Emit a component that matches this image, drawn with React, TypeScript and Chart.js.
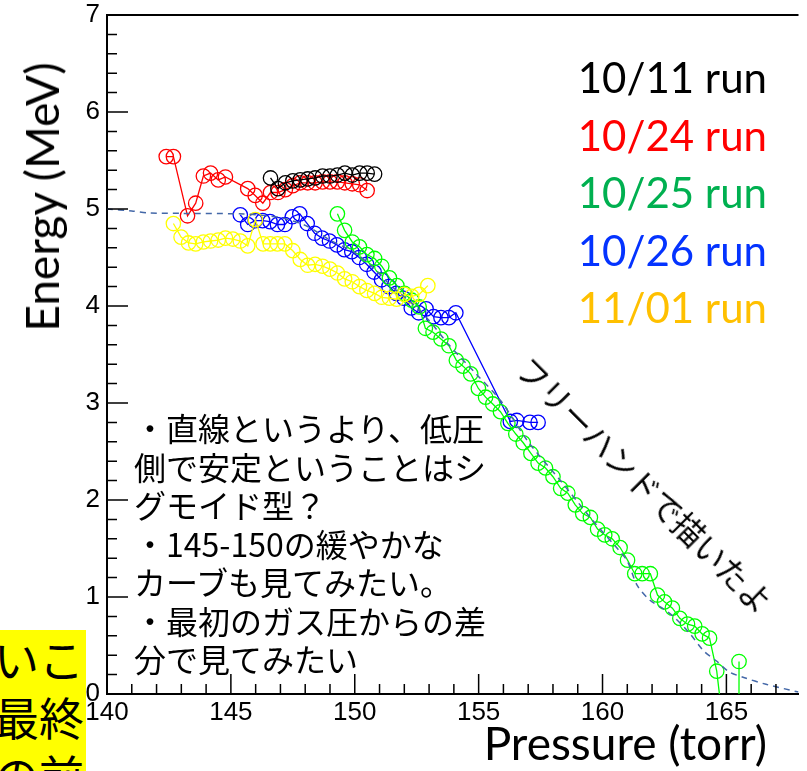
import React, { useEffect, useRef } from "react";
import { Chart, registerables } from "chart.js";

Chart.register(...registerables);

// ---- axis ranges & tick labels ----
const X_MIN = 140;
const X_MAX = 167.91;
const Y_MIN = 0;
const Y_MAX = 7;
const xMajorStep = 5;
const yMajorStep = 1;
const xMinorStep = 1;
const yMinorStep = 0.2;

// ---- series: pressure (torr) / energy (MeV) ----
const p1011 = [146.6, 146.9, 147.2, 147.5, 147.8, 148.1, 148.4, 148.7, 149.0, 149.3, 149.6, 149.9, 150.2, 150.5, 150.8];
const e1011 = [5.32, 5.21, 5.27, 5.29, 5.30, 5.31, 5.32, 5.34, 5.34, 5.35, 5.37, 5.35, 5.37, 5.37, 5.36];

const p1024 = [142.39, 142.68, 143.25, 143.58, 143.89, 144.18, 144.49, 144.78, 145.68, 145.98, 146.29, 146.6, 146.9, 147.2, 147.5, 147.8, 148.1, 148.4, 148.7, 149.0, 149.3, 149.6, 149.9, 150.2, 150.5];
const e1024 = [5.54, 5.54, 4.93, 5.06, 5.34, 5.37, 5.30, 5.33, 5.21, 5.14, 5.06, 5.17, 5.17, 5.20, 5.24, 5.27, 5.27, 5.27, 5.28, 5.28, 5.28, 5.27, 5.26, 5.25, 5.19];

const p1025 = [149.3, 149.59, 149.9, 150.19, 150.49, 150.8, 151.09, 151.4, 151.7, 152.0, 152.3, 152.6, 152.85, 153.16, 153.48, 153.8, 154.1, 154.37, 154.68, 154.99, 155.28, 155.57, 155.88, 156.18, 156.5, 156.8, 157.11, 157.4, 157.7, 158.0, 158.31, 158.6, 158.9, 159.2, 159.51, 159.8, 160.09, 160.39, 160.71, 161.01, 161.3, 161.6, 161.93, 162.22, 162.5, 162.82, 163.12, 163.43, 163.72, 164.02, 164.32, 164.61, 165.5, 165.51];
const e1025 = [4.95, 4.78, 4.66, 4.61, 4.53, 4.49, 4.41, 4.29, 4.21, 4.13, 4.06, 3.99, 3.77, 3.73, 3.66, 3.59, 3.44, 3.38, 3.30, 3.15, 3.06, 2.99, 2.91, 2.79, 2.68, 2.59, 2.48, 2.38, 2.33, 2.24, 2.12, 2.07, 1.95, 1.86, 1.82, 1.70, 1.64, 1.60, 1.51, 1.38, 1.24, 1.24, 1.24, 1.02, 0.95, 0.885, 0.78, 0.72, 0.70, 0.62, 0.576, 0.235, -1.7, 0.335];

const p1026 = [145.38, 145.68, 145.98, 146.28, 146.58, 146.88, 147.18, 147.48, 147.78, 148.08, 148.38, 148.68, 148.98, 149.28, 149.58, 149.88, 150.18, 150.48, 150.78, 151.08, 151.38, 151.68, 151.98, 152.28, 152.58, 152.88, 153.18, 153.48, 153.8, 154.08, 156.28, 156.54, 157.07, 157.4];
const e1026 = [4.94, 4.84, 4.88, 4.88, 4.87, 4.84, 4.84, 4.92, 4.95, 4.85, 4.75, 4.70, 4.67, 4.63, 4.58, 4.56, 4.50, 4.43, 4.35, 4.27, 4.20, 4.13, 4.08, 3.98, 3.93, 3.97, 3.89, 3.88, 3.88, 3.93, 2.81, 2.82, 2.80, 2.80];

const p1101 = [142.68, 142.99, 143.29, 143.58, 143.89, 144.18, 144.49, 144.78, 145.08, 145.38, 145.68, 145.99, 146.3, 146.59, 146.88, 147.18, 147.5, 147.8, 148.1, 148.4, 148.7, 149.0, 149.3, 149.59, 149.9, 150.19, 150.49, 150.8, 151.09, 151.4, 151.69, 152.0, 152.3, 152.6, 152.95];
const e1101 = [4.85, 4.71, 4.65, 4.64, 4.66, 4.67, 4.68, 4.70, 4.69, 4.67, 4.62, 4.89, 4.64, 4.64, 4.64, 4.64, 4.57, 4.48, 4.42, 4.43, 4.41, 4.38, 4.34, 4.28, 4.25, 4.20, 4.16, 4.13, 4.09, 4.08, 4.07, 4.12, 4.10, 4.12, 4.21];

// ---- hand-drawn guide curve ----
const pGuide = [140, 141, 141.7, 143, 145.3, 146.5, 147.2, 148.1, 149.0, 150.0, 150.8, 151.5, 152.3, 153.0, 153.8, 154.9, 155.9, 157.0, 158.3, 159.7, 160.6, 161.0, 161.4, 161.9, 162.5, 162.9, 163.5, 164.1, 164.6, 165.1, 165.7, 166.6, 167.91];
const eGuide = [5.0, 4.98, 4.96, 4.955, 4.95, 4.93, 4.9, 4.82, 4.68, 4.55, 4.38, 4.2, 4.03, 3.85, 3.6, 3.3, 3.02, 2.6, 2.2, 1.76, 1.5, 1.37, 1.12, 0.97, 0.87, 0.79, 0.63, 0.44, 0.34, 0.23, 0.17, 0.10, 0.02];

const legendLabels = ["10/11 run", "10/24 run", "10/25 run", "10/26 run", "11/01 run"];
const legendColors = ["#000000", "#ff0000", "#00b050", "#0433ff", "#ffc000"];

const noteLines = [
  "・直線というより、低圧",
  "側で安定ということはシ",
  "グモイド型？",
  "・145-150の緩やかな",
  "カーブも見てみたい。",
  "・最初のガス圧からの差",
  "分で見てみたい",
];
const sideLines = ["いこ", "最終", "の前"];

const zip = (xs: number[], ys: number[]) => xs.map((x, i) => ({ x, y: ys[i] }));

const series = (label: string, xs: number[], ys: number[], color: string) => ({
  label,
  data: zip(xs, ys),
  borderColor: color,
  backgroundColor: "rgba(0,0,0,0)",
  borderWidth: 1.3,
  pointStyle: "circle",
  pointRadius: 7.2,
  pointBorderWidth: 1.3,
  pointBorderColor: color,
  pointBackgroundColor: "rgba(0,0,0,0)",
  showLine: true,
  tension: 0,
});

const frameTicks = {
  id: "frameTicks",
  afterDraw(chart: any) {
    const { ctx, chartArea: a, scales } = chart;
    const xs = scales.x;
    const ys = scales.y;
    ctx.save();
    ctx.strokeStyle = "#000";
    ctx.lineWidth = 1.5;
    ctx.beginPath();
    const nx = Math.floor((X_MAX - X_MIN) / xMinorStep + 1e-6);
    for (let i = 0; i <= nx; i++) {
      const v = X_MIN + i * xMinorStep;
      const px = xs.getPixelForValue(v);
      const major = Math.abs(v / xMajorStep - Math.round(v / xMajorStep)) < 1e-6;
      ctx.moveTo(px, a.bottom);
      ctx.lineTo(px, a.bottom - (major ? 20 : 10));
    }
    const ny = Math.round((Y_MAX - Y_MIN) / yMinorStep);
    for (let i = 0; i <= ny; i++) {
      const v = Y_MIN + i * yMinorStep;
      const py = ys.getPixelForValue(v);
      const major = Math.abs(v / yMajorStep - Math.round(v / yMajorStep)) < 1e-6;
      ctx.moveTo(a.left, py);
      ctx.lineTo(a.left + (major ? 21 : 10), py);
    }
    ctx.stroke();
    ctx.lineWidth = 2;
    ctx.beginPath();
    ctx.moveTo(a.left, a.top);
    ctx.lineTo(a.right, a.top);
    ctx.stroke();
    ctx.restore();
  },
};

function ChartCanvas() {
  const ref = useRef<HTMLCanvasElement | null>(null);
  useEffect(() => {
    if (!ref.current) return;
    const tickFont = { family: "'Liberation Sans', Arial, sans-serif", size: 26 };
    const chart = new Chart(ref.current, {
      type: "line",
      data: {
        datasets: [
          {
            label: "guide",
            data: zip(pGuide, eGuide),
            borderColor: "#4468a8",
            borderWidth: 1.5,
            borderDash: [6, 5],
            pointRadius: 0,
            showLine: true,
            tension: 0.3,
            fill: false,
          } as any,
          series("10/11", p1011, e1011, "#000000"),
          series("10/24", p1024, e1024, "#ff0000"),
          series("11/01", p1101, e1101, "#ffff00"),
          series("10/25", p1025, e1025, "#00ff00"),
          series("10/26", p1026, e1026, "#0000ff"),
        ],
      },
      options: {
        animation: false,
        responsive: false,
        devicePixelRatio: 1,
        layout: { padding: { left: 0, top: 15, right: 0, bottom: 0 } },
        plugins: { legend: { display: false }, tooltip: { enabled: false }, title: { display: false } },
        scales: {
          x: {
            type: "linear",
            min: X_MIN,
            max: X_MAX,
            grid: { display: false, drawTicks: false },
            border: { display: true, color: "#000", width: 2 },
            ticks: {
              stepSize: xMajorStep,
              includeBounds: false,
              color: "#000",
              font: tickFont,
              padding: 3,
              maxRotation: 0,
              autoSkip: false,
            },
            afterFit: (s: any) => {
              s.height = 77;
              s.paddingLeft = 0;
              s.paddingRight = 0;
            },
          },
          y: {
            type: "linear",
            min: Y_MIN,
            max: Y_MAX,
            grid: { display: false, drawTicks: false },
            border: { display: true, color: "#000", width: 2 },
            ticks: {
              stepSize: yMajorStep,
              color: "#000",
              font: tickFont,
              padding: 7,
            },
            afterFit: (s: any) => {
              s.width = 107;
              s.paddingTop = 0;
              s.paddingBottom = 0;
            },
          },
        },
      } as any,
      plugins: [frameTicks],
    });
    return () => chart.destroy();
  }, []);
  return <canvas ref={ref} width={807} height={771} style={{ position: "absolute", left: 0, top: 0, width: 807, height: 771 }} />;
}

export default function App() {
  const latin = "Lato, 'Open Sans', sans-serif";
  const jp = "'Noto Sans CJK JP', sans-serif";
  return (
    <div style={{ position: "fixed", left: 0, top: 0, width: 807, height: 771, background: "#fff", overflow: "hidden" }}>
      <ChartCanvas />
      {/* y axis title */}
      <div
        style={{
          position: "absolute",
          left: 42,
          top: 197,
          transform: "translate(-50%, -50%) rotate(-90deg)",
          fontFamily: latin,
          fontSize: 46,
          whiteSpace: "nowrap",
          color: "#000",
          lineHeight: "54px",
        }}
      >
        Energy (MeV)
      </div>
      {/* x axis title */}
      <div
        style={{
          position: "absolute",
          right: 40,
          top: 716,
          fontFamily: latin,
          fontSize: 46,
          whiteSpace: "nowrap",
          color: "#000",
          lineHeight: "54px",
        }}
      >
        Pressure (torr)
      </div>
      {/* legend */}
      {legendLabels.map((t, i) => (
        <div
          key={t}
          style={{
            position: "absolute",
            right: 40,
            top: 77 + i * 57.5 - 25,
            fontFamily: latin,
            fontSize: 42,
            lineHeight: "50px",
            color: legendColors[i],
            whiteSpace: "nowrap",
          }}
        >
          {t}
        </div>
      ))}
      {/* notes */}
      <div
        style={{
          position: "absolute",
          left: 134,
          top: 408,
          fontFamily: jp,
          fontSize: 32,
          lineHeight: "38.5px",
          color: "#000",
          whiteSpace: "pre",
        }}
      >
        {noteLines.join("\n")}
      </div>
      {/* rotated comment */}
      <div
        style={{
          position: "absolute",
          left: 646,
          top: 484,
          transform: "translate(-50%, -50%) rotate(45deg)",
          fontFamily: jp,
          fontSize: 31.5,
          lineHeight: "40px",
          color: "#000",
          whiteSpace: "nowrap",
        }}
      >
        フリーハンドで描いたよ
      </div>
      {/* yellow highlighted side text */}
      <div
        style={{
          position: "absolute",
          left: 0,
          top: 630,
          width: 86,
          height: 141,
          background: "#ffff00",
          overflow: "hidden",
        }}
      >
        <div
          style={{
            position: "absolute",
            right: 2,
            top: 0,
            fontFamily: jp,
            fontSize: 45,
            lineHeight: "58px",
            color: "#000",
            whiteSpace: "pre",
            textAlign: "right",
          }}
        >
          {sideLines.join("\n")}
        </div>
      </div>
    </div>
  );
}
